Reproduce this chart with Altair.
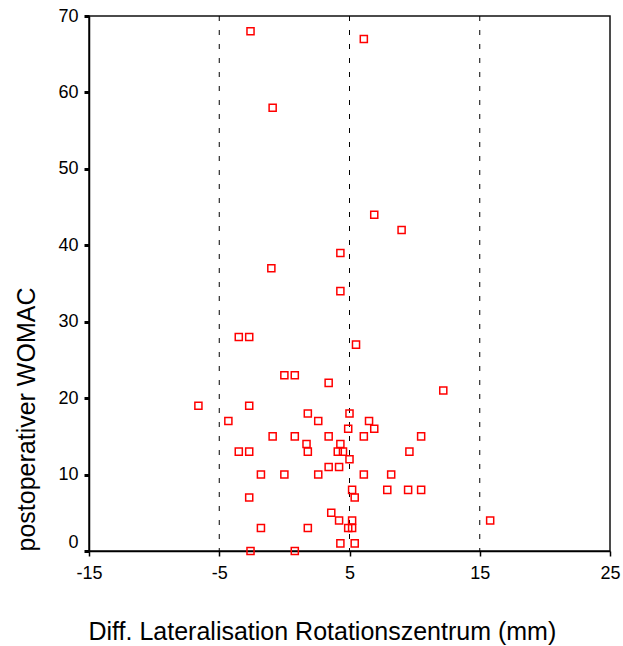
import altair as alt
import pandas as pd

# Data
diff_lat = [-2.6, 6.1, -0.9, 6.9, 9.0, 4.3, -1.0, 4.3, -3.5, -2.7,
            5.5, 0.0, 0.8, 3.4, 12.2, -6.6, -2.7, 1.8, 5.0, -4.3,
            2.6, 6.5, 4.9, 6.9, -0.9, 0.8, 3.4, 6.1, 10.5, 1.7,
            4.3, -3.5, -2.7, 1.8, 4.1, 4.5, 9.6, 5.0, 3.4, 4.2,
            -1.8, 0.0, 2.6, 6.1, 8.2, 5.2, 7.9, 9.5, 10.5, -2.7,
            5.4, 3.6, 4.2, 5.2, 15.8, -1.8, 1.8, 4.9, 5.2, 4.3,
            5.4, -2.6, 0.8]
womac = [68, 67, 58, 44, 42, 39, 37, 34, 28, 28,
         27, 23, 23, 22, 21, 19, 19, 18, 18, 17,
         17, 17, 16, 16, 15, 15, 15, 15, 15, 14,
         14, 13, 13, 13, 13, 13, 13, 12, 11, 11,
         10, 10, 10, 10, 10, 8, 8, 8, 8, 7,
         7, 5, 4, 4, 4, 3, 3, 3, 3, 1,
         1, 0, 0]
ref_lines = [-5, 5, 15]
x_ticks = [-15, -5, 5, 15, 25]
y_ticks = [0, 10, 20, 30, 40, 50, 60, 70]

df = pd.DataFrame({"diff": diff_lat, "womac": womac})
rules_df = pd.DataFrame({"x": ref_lines})

FONT = "Liberation Sans"
xscale = alt.Scale(domain=[-15, 25], nice=False, zero=False)
yscale = alt.Scale(domain=[0, 70], nice=False, zero=False)

x_axis = alt.Axis(
    values=x_ticks, grid=False, title="Diff. Lateralisation Rotationszentrum (mm)",
    labelExpr="'' + datum.value", labelFlush=False,
    labelFont=FONT, labelFontSize=18, labelColor="black", labelPadding=8,
    tickSize=5, tickWidth=1.5, tickColor="black",
    domainColor="black", domainWidth=1.5,
    titleFont=FONT, titleFontSize=25, titleFontWeight="normal", titleColor="black",
    titleAlign="left", titleBaseline="alphabetic", titleX=-1, titleY=88,
)
y_axis = alt.Axis(
    values=y_ticks, grid=False, title="postoperativer WOMAC",
    labelExpr="'' + datum.value", labelFlush=False,
    labelFont=FONT, labelFontSize=18, labelColor="black", labelPadding=6,
    labelBaseline={"condition": {"test": "datum.value === 0", "value": "bottom"}, "value": "middle"},
    tickSize=5, tickWidth=3, tickColor="black",
    domainColor="black", domainWidth=1.5,
    titleFont=FONT, titleFontSize=25, titleFontWeight="normal", titleColor="black",
    titleAngle=-90, titleAlign="left", titleBaseline="alphabetic", titleX=-55, titleY=535,
)

rules = alt.Chart(rules_df).mark_rule(color="black", strokeDash=[5, 9], strokeWidth=1).encode(
    x=alt.X("x:Q", scale=xscale, axis=x_axis)
)

points = alt.Chart(df).mark_point(
    shape="square", filled=False, color="#ff0000", size=50, strokeWidth=1.5, opacity=1
).encode(
    x=alt.X("diff:Q", scale=xscale, axis=x_axis),
    y=alt.Y("womac:Q", scale=yscale, axis=y_axis),
)

chart = (rules + points).properties(
    width=521, height=535,
    autosize=alt.AutoSizeParams(type="none"),
    padding={"left": 89, "top": 16, "right": 13, "bottom": 95},
    background="white",
).configure_view(stroke="#111", strokeWidth=1.5)

chart.save("out.html", embed_options={"renderer": "svg", "actions": False})
